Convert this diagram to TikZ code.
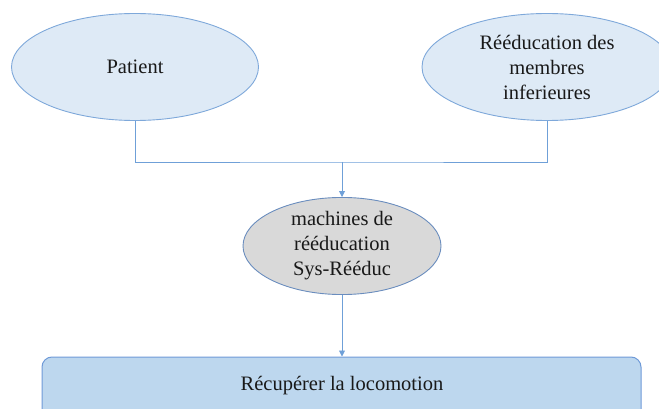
\documentclass[tikz,border=0pt]{standalone}
\usepackage{fontspec}
\setmainfont{Liberation Serif}
\usetikzlibrary{shapes.geometric,arrows.meta}
\definecolor{topfill}{HTML}{DEEAF6}
\definecolor{topline}{HTML}{7EA8DA}
\definecolor{midfill}{HTML}{D9D9D9}
\definecolor{midline}{HTML}{6A8DBE}
\definecolor{boxfill}{HTML}{BDD7EE}
\definecolor{boxline}{HTML}{6F9AD8}
\definecolor{wire}{HTML}{6FA0D8}
\tikzset{
  txt/.style={font=\fontsize{20.5}{25}\selectfont, align=center, text=black!90},
  topell/.style={ellipse, draw=topline, fill=topfill, line width=0.9pt, inner sep=0pt, txt},
  midell/.style={ellipse, draw=midline, fill=midfill, line width=0.9pt, inner sep=0pt, txt},
  goalbox/.style={rectangle, rounded corners=10pt, draw=boxline, fill=boxfill, line width=1pt, inner sep=0pt, txt},
  wireline/.style={draw=wire, line width=0.9pt},
  wirearrow/.style={wireline, -{Triangle[length=6pt,width=6pt]}},
}
\begin{document}
\begin{tikzpicture}[x=1pt,y=-1pt]
\useasboundingbox (0,0) rectangle (659,409);
\begin{scope}
\clip (0,0) rectangle (659,409);
% goal box, running past the bottom edge
\node[goalbox, minimum width=599pt, minimum height=90pt] (goal) at (341.5,402) {};
\node[txt] (goallbl) at (342,386) {Récupérer la locomotion};

% two starting ellipses
\node[topell, minimum width=247pt, minimum height=107pt] (pat) at (135,67) {Patient};
\node[topell, minimum width=250pt, minimum height=107pt] (reed) at (547,67)
  {Rééducation des\\membres\\inferieures};

% the machine
\node[midell, minimum width=198pt, minimum height=91pt] (mach) at (342,246)
  {machines de\\rééducation\\Sys-Rééduc};
\end{scope}

% connectors
\coordinate (jn) at (342,162);
\draw[wireline] (pat.south) |- (jn) -| (reed.south);
\draw[wirearrow] (jn) -- (mach.north);
\draw[wirearrow] (mach.south) -- (goal.north -| mach.south);
\end{tikzpicture}
\end{document}
